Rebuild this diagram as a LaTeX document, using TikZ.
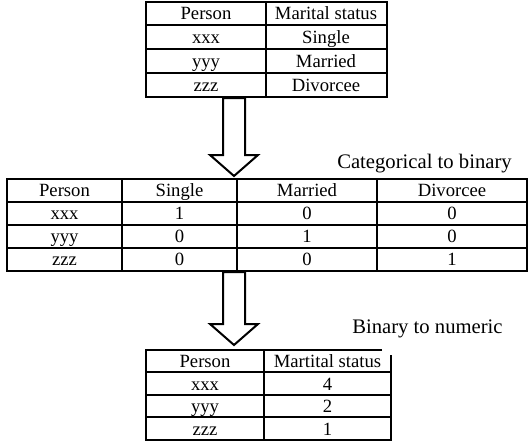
\documentclass[tikz,border=0pt]{standalone}
\usepackage{fontspec}
\setmainfont{Liberation Serif}
\tikzset{
  cell/.style={anchor=base, inner sep=0, font=\fontsize{14}{16}\selectfont},
  label/.style={anchor=base west, inner sep=0, font=\fontsize{15.5}{18}\selectfont},
  grid/.style={line width=1pt},
  blockarrow/.style={draw, fill=white, line width=1.5pt, line join=miter}
}
\begin{document}
\begin{tikzpicture}[x=0.75pt,y=-0.75pt]
\useasboundingbox (0,0) rectangle (528,444);
% first table
\draw[grid] (146,2) rectangle (387,97);
\draw[grid] (266,2) -- (266,97);
\draw[grid] (146,25) -- (387,25) (146,49) -- (387,49) (146,73) -- (387,73);
\node[cell] (t1h1) at (206,19) {Person};
\node[cell] (t1h2) at (326,19) {Marital status};
\node[cell] (t1a1) at (206,43) {xxx};
\node[cell] (t1a2) at (326,43) {Single};
\node[cell] (t1b1) at (206,67) {yyy};
\node[cell] (t1b2) at (326,67) {Married};
\node[cell] (t1c1) at (206,91) {zzz};
\node[cell] (t1c2) at (326,91) {Divorcee};
% arrow 1
\draw[blockarrow] (223,98) -- (223,155) -- (210,155) -- (234,176) -- (258,155) -- (245,155) -- (245,98) -- cycle;
\node[label] (lab1) at (337,168) {Categorical to binary};
% second table
\draw[grid] (7,179) rectangle (527,271);
\draw[grid] (122,179) -- (122,271) (237,179) -- (237,271) (377,179) -- (377,271);
\draw[grid] (7,202) -- (527,202) (7,225) -- (527,225) (7,248) -- (527,248);
\node[cell] (t2h1) at (64.5,196) {Person};
\node[cell] (t2h2) at (179.5,196) {Single};
\node[cell] (t2h3) at (307,196) {Married};
\node[cell] (t2h4) at (452,196) {Divorcee};
\node[cell] (t2a1) at (64.5,219) {xxx};
\node[cell] (t2a2) at (179.5,219) {1};
\node[cell] (t2a3) at (307,219) {0};
\node[cell] (t2a4) at (452,219) {0};
\node[cell] (t2b1) at (64.5,242) {yyy};
\node[cell] (t2b2) at (179.5,242) {0};
\node[cell] (t2b3) at (307,242) {1};
\node[cell] (t2b4) at (452,242) {0};
\node[cell] (t2c1) at (64.5,265) {zzz};
\node[cell] (t2c2) at (179.5,265) {0};
\node[cell] (t2c3) at (307,265) {0};
\node[cell] (t2c4) at (452,265) {1};
% arrow 2
\draw[blockarrow] (223,272) -- (223,324) -- (210,324) -- (234,345) -- (258,324) -- (245,324) -- (245,272) -- cycle;
\node[label] (lab2) at (352,333) {Binary to numeric};
% third table
\draw[grid] (382,350) -- (146,350) -- (146,440) -- (391,440) -- (391,355);
\draw[grid] (264,350) -- (264,440);
\draw[grid] (146,372) -- (391,372) (146,395) -- (391,395) (146,417) -- (391,417);
\node[cell] (t3h1) at (205,367) {Person};
\node[cell] (t3h2) at (327.5,367) {Martital status};
\node[cell] (t3a1) at (205,390) {xxx};
\node[cell] (t3a2) at (327.5,390) {4};
\node[cell] (t3b1) at (205,412) {yyy};
\node[cell] (t3b2) at (327.5,412) {2};
\node[cell] (t3c1) at (205,435) {zzz};
\node[cell] (t3c2) at (327.5,435) {1};
\end{tikzpicture}
\end{document}
